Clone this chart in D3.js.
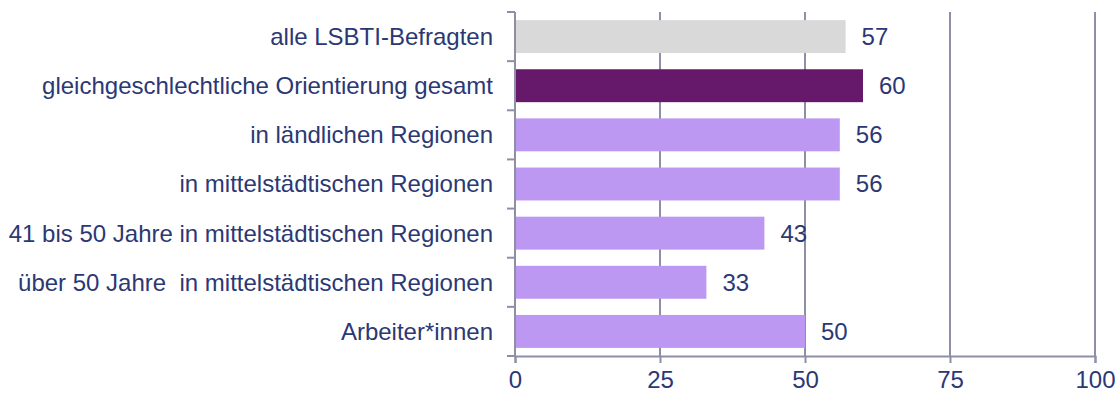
<!DOCTYPE html>
<html>
<head>
<meta charset="utf-8">
<script src="https://cdn.jsdelivr.net/npm/d3@7"></script>
<style>
  html, body { margin: 0; padding: 0; background: #fff; }
  svg { display: block; }
  text { font-family: "Liberation Sans", Arial, sans-serif; fill: #2b3874; white-space: pre; }
</style>
</head>
<body>
<svg id="chart" width="1116" height="394"></svg>
<script>
// Group labels, top to bottom
const categories = [
  "alle LSBTI-Befragten",
  "gleichgeschlechtliche Orientierung gesamt",
  "in ländlichen Regionen",
  "in mittelstädtischen Regionen",
  "41 bis 50 Jahre in mittelstädtischen Regionen",
  "über 50 Jahre  in mittelstädtischen Regionen",
  "Arbeiter*innen"
];
// Share in percent
const values = [57, 60, 56, 56, 43, 33, 50];
// Bar fill per group
const colors = ["#d9d9d9", "#66186b", "#bc98f2", "#bc98f2", "#bc98f2", "#bc98f2", "#bc98f2"];
const xTicks = [0, 25, 50, 75, 100];

const svg = d3.select("#chart");
const margin = { top: 12, right: 21, bottom: 38, left: 515 };
const W = 1116, H = 394;
const innerW = W - margin.left - margin.right;
const innerH = H - margin.top - margin.bottom;
const axisColor = "#8e8fa6";
const fontSize = "24px";

const g = svg.append("g").attr("transform", `translate(${margin.left},${margin.top})`);

const x = d3.scaleLinear().domain([0, 100]).range([0, innerW]);
const y = d3.scaleBand().domain(categories).range([0, innerH]).paddingInner(0.33).paddingOuter(0.165);

// vertical grid lines
g.selectAll("line.grid")
  .data(xTicks.filter(t => t > 0))
  .enter().append("line")
  .attr("class", "grid")
  .attr("x1", d => x(d)).attr("x2", d => x(d))
  .attr("y1", 0).attr("y2", innerH)
  .attr("stroke", axisColor).attr("stroke-width", 2);

// bars
g.selectAll("rect.bar")
  .data(values)
  .enter().append("rect")
  .attr("class", "bar")
  .attr("x", 0)
  .attr("y", (d, i) => y(categories[i]))
  .attr("width", d => x(d))
  .attr("height", y.bandwidth())
  .attr("fill", (d, i) => colors[i]);

// value labels
g.selectAll("text.val")
  .data(values)
  .enter().append("text")
  .attr("class", "val")
  .attr("x", d => x(d) + 16)
  .attr("y", (d, i) => y(categories[i]) + y.bandwidth() / 2)
  .attr("dy", "0.35em")
  .style("font-size", fontSize)
  .text(d => d);

// left axis with category boundary ticks
const step = y.step();
const leftAxis = g.append("g");
leftAxis.append("line")
  .attr("x1", 0).attr("x2", 0).attr("y1", 0).attr("y2", innerH)
  .attr("stroke", axisColor).attr("stroke-width", 2);
leftAxis.selectAll("line.tick")
  .data(d3.range(categories.length + 1))
  .enter().append("line")
  .attr("class", "tick")
  .attr("x1", -8).attr("x2", 0)
  .attr("y1", i => i * step).attr("y2", i => i * step)
  .attr("stroke", axisColor).attr("stroke-width", 2);
leftAxis.selectAll("text.cat")
  .data(categories)
  .enter().append("text")
  .attr("class", "cat")
  .attr("x", -22)
  .attr("y", d => y(d) + y.bandwidth() / 2)
  .attr("dy", "0.35em")
  .attr("text-anchor", "end")
  .style("font-size", fontSize)
  .text(d => d);

// bottom axis
const xAxis = d3.axisBottom(x).tickValues(xTicks).tickSize(7).tickPadding(8);
const ax = g.append("g").attr("transform", `translate(0,${innerH})`).call(xAxis);
ax.select(".domain").attr("stroke", axisColor).attr("stroke-width", 2);
ax.selectAll(".tick line").attr("stroke", axisColor).attr("stroke-width", 2);
ax.selectAll(".tick text")
  .style("font-size", fontSize)
  .style("font-family", "'Liberation Sans', Arial, sans-serif")
  .attr("fill", "#2b3874");
</script>
</body>
</html>
